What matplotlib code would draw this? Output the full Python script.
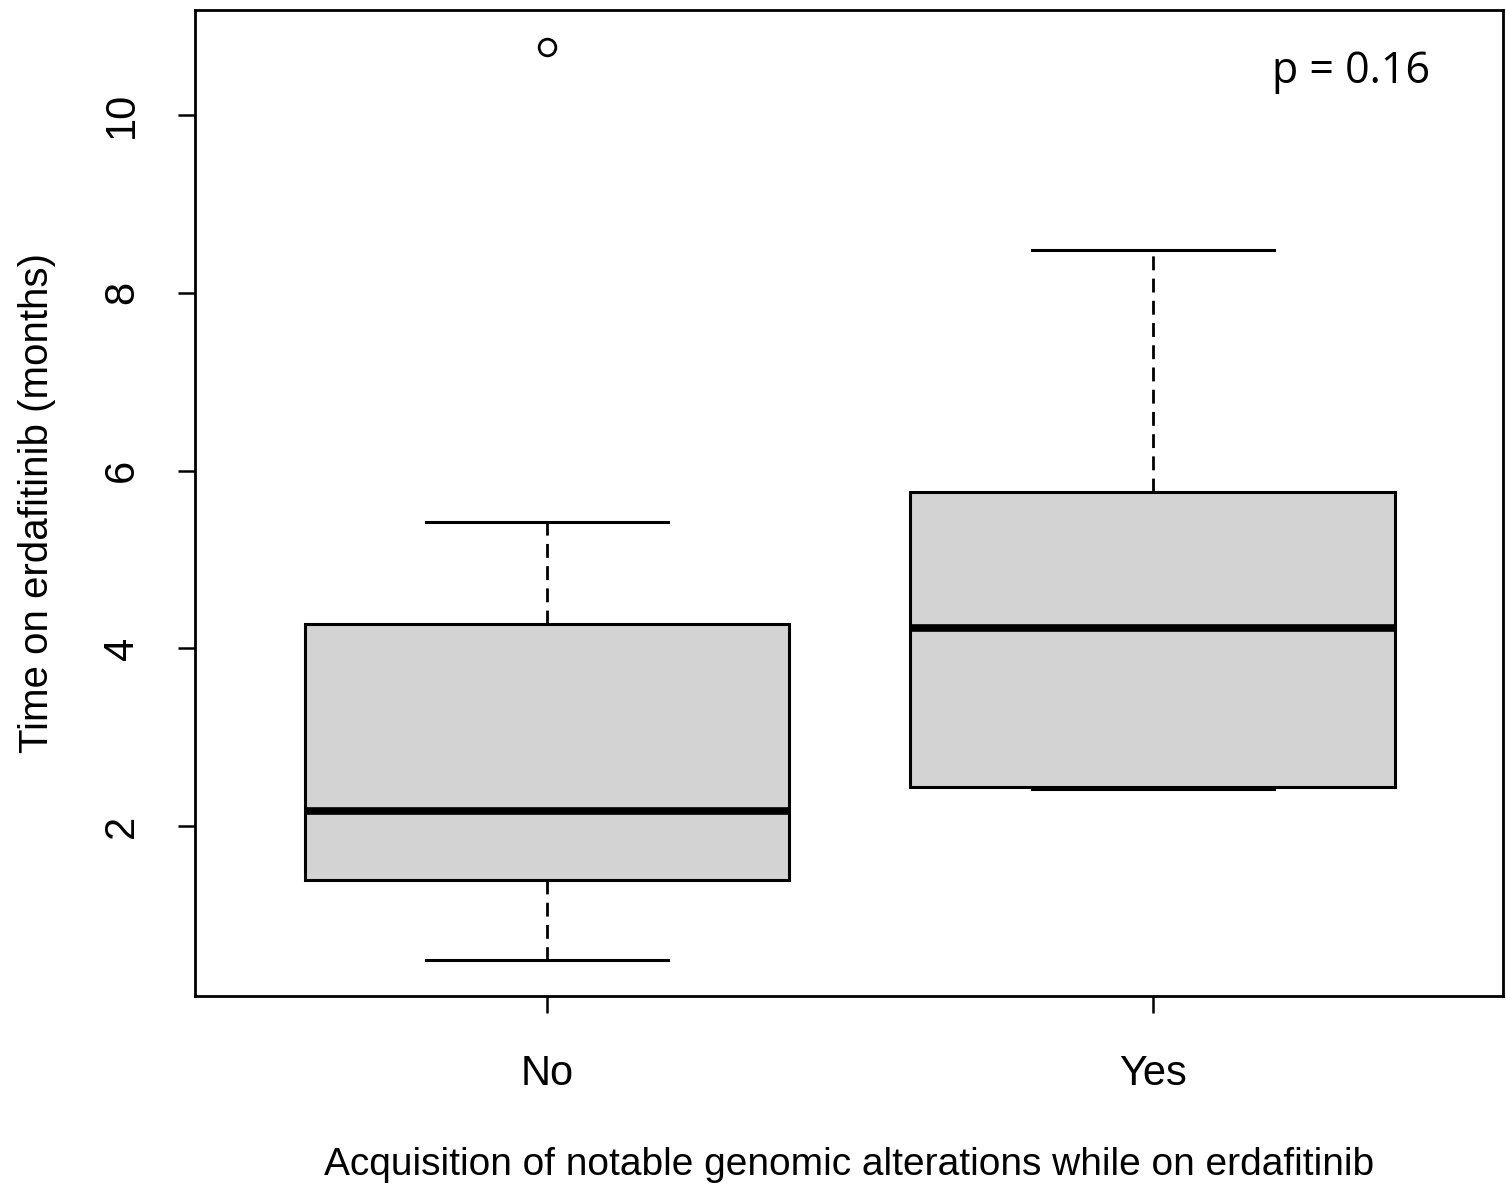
import matplotlib.pyplot as plt

# boxplot stats (months)
groups = ["No", "Yes"]
whislo = [0.49, 2.42]
q1 = [1.39, 2.44]
med = [2.17, 4.23]
q3 = [4.27, 5.76]
whishi = [5.42, 8.48]
fliers = [[10.76], []]
yticks = [2, 4, 6, 8, 10]

plt.rcParams['font.family'] = ['Liberation Sans Narrow', 'Liberation Sans', 'DejaVu Sans']

fig = plt.figure(figsize=(15.06, 11.89), dpi=100)
ax = fig.add_axes([195/1506, 1 - 996/1189, (1503-195)/1506, (996-10)/1189])

stats = []
for i in range(len(groups)):
    stats.append({"label": groups[i], "whislo": whislo[i], "q1": q1[i], "med": med[i],
                  "q3": q3[i], "whishi": whishi[i], "fliers": fliers[i]})

ax.bxp(stats, positions=[1, 2], widths=0.8, patch_artist=True, showfliers=True,
       boxprops=dict(facecolor="#d3d3d3", edgecolor="black", linewidth=2.2),
       medianprops=dict(color="black", linewidth=5.5, solid_capstyle="butt"),
       whiskerprops=dict(color="black", linewidth=2, linestyle=(0, (5, 3))),
       capprops=dict(color="black", linewidth=2.2),
       capwidths=0.4,
       flierprops=dict(marker="o", markersize=12, markerfacecolor="none",
                       markeredgecolor="black", markeredgewidth=2))

ax.set_xlim(0.419, 2.578)
ax.set_ylim(0.09, 11.18)
ax.set_yticks(yticks)
ax.set_yticklabels([str(t) for t in yticks], rotation=90, va="center")
ax.set_xticks([1, 2])
ax.set_xticklabels(groups)
ax.tick_params(axis="both", labelsize=30, length=12, width=1.8)
ax.tick_params(axis="x", pad=30)
ax.tick_params(axis="y", pad=26)
for s in ax.spines.values():
    s.set_linewidth(2)

ax.set_xlabel("Acquisition of notable genomic alterations while on erdafitinib", fontsize=28, labelpad=38)
ax.set_ylabel("Time on erdafitinib (months)", fontsize=29, labelpad=33)

ax.text(0.884, 0.937, "p = 0.16", transform=ax.transAxes, fontsize=31,
        family=["Open Sans", "DejaVu Sans"], ha="center", va="center")

fig.savefig("out.png", dpi=100)
